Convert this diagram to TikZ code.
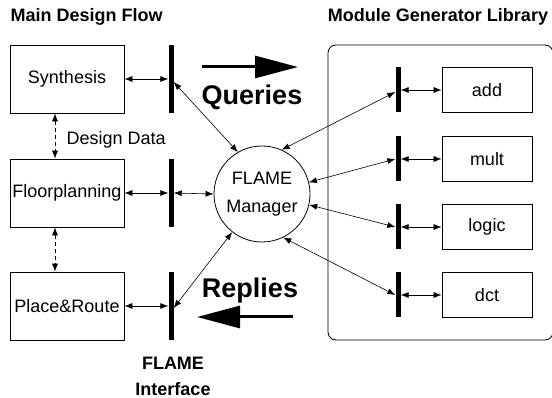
\documentclass[tikz,border=0pt]{standalone}
\usepackage{fontspec}
\setmainfont{Liberation Sans}
\usetikzlibrary{arrows.meta, positioning}
\tikzset{blk/.style={draw,line width=0.8pt,minimum width=114pt,minimum height=68pt,inner sep=0pt},
         mbox/.style={draw,line width=0.8pt,minimum width=90pt,minimum height=45pt,inner sep=0pt},
         bar/.style={fill,minimum width=5pt,minimum height=68pt,inner sep=0pt},
         mbar/.style={fill,minimum width=5pt,minimum height=45pt,inner sep=0pt},
         dbl/.style={{Latex[length=8pt,width=6pt]}-{Latex[length=8pt,width=6pt]},line width=0.6pt},
         big/.style={-{Triangle[length=43pt,width=22pt]},line width=3pt},
         txt/.style={font=\fontsize{18}{21}\selectfont},
         btxt/.style={font=\fontsize{18}{26}\selectfont\bfseries}}

\begin{document}
\begin{tikzpicture}[x=1pt,y=-1pt,txt]
        \useasboundingbox (0,0) rectangle (552,398);

        \node[btxt, anchor=west](mtitle)at(7,17){Main Design Flow};
        \node[btxt](ltitle)at(438,17){Module Generator Library};

        \node[blk](syn)at(67,79){Synthesis};
        \node[blk](flp)at(67,193){Floorplanning};
        \node[blk](pr)at(67,306){Place\&Route};
        \node[anchor=west](dd)at(63,140){Design Data};

        \draw[dbl, dash pattern=on 4pt off 3pt]([xshift=-12pt]syn.south)--([xshift=-12pt]flp.north);
        \draw[dbl, dash pattern=on 4pt off 3pt]([xshift=-12pt]flp.south)--([xshift=-12pt]pr.north);

        \node[bar](if1)at(171,79){};
        \node[bar](if2)at(171,193){};
        \node[bar](if3)at(171,306){};
        \node[btxt, align=center](ifl)at(173,376){FLAME\\Interface};

        \node[draw, circle, line width=0.8pt, minimum size=96pt, align=center,
              font=\fontsize{18}{28}\selectfont](mgr)at(262,194){FLAME\\Manager};

        \draw[rounded corners=8pt, line width=0.8pt](328,45) rectangle (553,340);
        \node[mbar](mb1)at(398,90){};
        \node[mbar](mb2)at(398,159){};
        \node[mbar](mb3)at(398,227){};
        \node[mbar](mb4)at(398,295){};
        \node[mbox](add)at(487,90){add};
        \node[mbox](mult)at(487,159){mult};
        \node[mbox](logic)at(487,227){logic};
        \node[mbox](dct)at(487,295){dct};

        \draw[dbl](syn.east)--(if1.west);
        \draw[dbl](flp.east)--(if2.west);
        \draw[dbl](pr.east)--(if3.west);
        \draw[dbl](if2.east)--(mgr.west);
        \draw[dbl]([yshift=-3pt]if1.east)--(mgr.120);
        \draw[dbl]([yshift=-2pt]if3.east)--(mgr.232);

        \draw[dbl](mgr.66)--([yshift=-2pt]mb1.west);
        \draw[dbl](mgr.14)--(mb2.west);
        \draw[dbl](mgr.347)--(mb3.west);
        \draw[dbl](mgr.296)--(mb4.west);
        \draw[dbl](mb1.east)--(add.west);
        \draw[dbl](mb2.east)--(mult.west);
        \draw[dbl](mb3.east)--(logic.west);
        \draw[dbl](mb4.east)--(dct.west);

        \coordinate(qs)at(202,67);
        \coordinate(qe)at(298,67);
        \coordinate(rs)at(293,317);
        \coordinate(re)at(197,317);
        \draw[big](qs)--(qe);
        \draw[big](rs)--(re);
        \node[font=\fontsize{27}{30}\selectfont\bfseries](q)at(252,97){Queries};
        \node[font=\fontsize{27}{30}\selectfont\bfseries](r)at(250,291){Replies};
\end{tikzpicture}
\end{document}
